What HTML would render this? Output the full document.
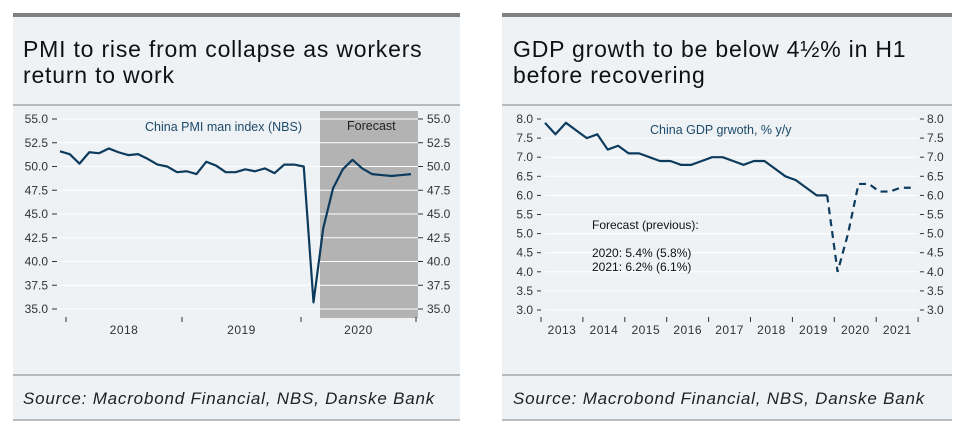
<!DOCTYPE html>
<html><head><meta charset="utf-8"><style>
body{margin:0;background:#fff;width:965px;height:433px;overflow:hidden;font-family:"Liberation Sans",sans-serif}
svg text{font-family:"Liberation Sans",sans-serif}
</style></head><body>
<svg width="965" height="433">
<g>
<rect x="13" y="13" width="447" height="407" fill="#eef2f4"/>
<rect x="13" y="13" width="447" height="4" fill="#808080"/>
<line x1="13" y1="105" x2="460" y2="105" stroke="#808080"/>
<line x1="13" y1="375" x2="460" y2="375" stroke="#808080"/>
<line x1="13" y1="420" x2="460" y2="420" stroke="#808080"/>
<text x="23" y="57" font-size="23" letter-spacing="0.8" fill="#111">PMI to rise from collapse as workers</text>
<text x="23" y="83" font-size="23" letter-spacing="0.8" fill="#111">return to work</text>
<text x="23" y="404" font-size="17" letter-spacing="0.8" font-style="italic" fill="#222">Source: Macrobond Financial, NBS, Danske Bank</text>
<g id="pmi"></g>
</g>
<g>
<rect x="502" y="13" width="450" height="407" fill="#eef2f4"/>
<rect x="502" y="13" width="450" height="4" fill="#808080"/>
<line x1="502" y1="105" x2="952" y2="105" stroke="#808080"/>
<line x1="502" y1="375" x2="952" y2="375" stroke="#808080"/>
<line x1="502" y1="420" x2="952" y2="420" stroke="#808080"/>
<text x="513" y="57" font-size="23" letter-spacing="0.8" fill="#111">GDP growth to be below 4½% in H1</text>
<text x="513" y="83" font-size="23" letter-spacing="0.8" fill="#111">before recovering</text>
<text x="513" y="404" font-size="17" letter-spacing="0.8" font-style="italic" fill="#222">Source: Macrobond Financial, NBS, Danske Bank</text>
<g id="gdp"></g>
</g>
</svg>
<script>
const NS="http://www.w3.org/2000/svg";
function mk(p,t,a,txt){const e=document.createElementNS(NS,t);for(const k in a)e.setAttribute(k,a[k]);if(txt!==undefined)e.textContent=txt;p.appendChild(e);return e;}

// PMI data (Dec 2017 .. Dec 2020, monthly)
const pmiYears=["2018","2019","2020"];
const pmiTicks=[55.0,52.5,50.0,47.5,45.0,42.5,40.0,37.5,35.0];
const pmiValues=[51.6,51.3,50.3,51.5,51.4,51.9,51.5,51.2,51.3,50.8,50.2,50.0,49.4,49.5,49.2,50.5,50.1,49.4,49.4,49.7,49.5,49.8,49.3,50.2,50.2,50.0,35.7,43.5,47.7,49.7,50.7,49.8,49.2,49.1,49.0,49.1,49.2];
const pmiForecastStart=26; // last actual month (Feb 2020)

// GDP data (2013Q1 .. 2021Q4, quarterly)
const gdpYears=["2013","2014","2015","2016","2017","2018","2019","2020","2021"];
const gdpTicks=[8.0,7.5,7.0,6.5,6.0,5.5,5.0,4.5,4.0,3.5,3.0];
const gdpActual=[7.9,7.6,7.9,7.7,7.5,7.6,7.2,7.3,7.1,7.1,7.0,6.9,6.9,6.8,6.8,6.9,7.0,7.0,6.9,6.8,6.9,6.9,6.7,6.5,6.4,6.2,6.0,6.0];
const gdpForecast=[6.0,4.0,5.0,6.3,6.3,6.1,6.1,6.2,6.2];

// ---- PMI chart
(function(){
const g=document.getElementById('pmi');
const y=v=>119+(55-v)*9.5;
const x=i=>60+i*9.75; // i=0 -> Dec 2017
const fx0=x(pmiForecastStart)+6.5;
const band=mk(g,'rect',{x:fx0,y:111,width:418-fx0,height:207,fill:'#b3b3b3'});


pmiTicks.forEach(v=>{
 const gl=mk(g,'line',{x1:57,x2:418,y1:y(v),y2:y(v),stroke:'#fff','stroke-width':1});
 
 
 mk(g,'line',{x1:52,x2:57,y1:y(v),y2:y(v),stroke:'#333'});
 mk(g,'line',{x1:418,x2:423,y1:y(v),y2:y(v),stroke:'#333'});
 const l=mk(g,'text',{x:48,y:y(v)+4,'font-size':12,fill:'#333','text-anchor':'end'},v.toFixed(1));
 
 
 const r=mk(g,'text',{x:427,y:y(v)+4,'font-size':12,fill:'#333'},v.toFixed(1));
 
 
});
const yt=[66,182,301,416];
yt.forEach(t=>mk(g,'line',{x1:t,x2:t,y1:317,y2:322,stroke:'#333'}));
pmiYears.forEach((yr,i)=>{
 const t=mk(g,'text',{x:(yt[i]+yt[i+1])/2,y:334,'font-size':12,'letter-spacing':0.5,fill:'#333','text-anchor':'middle'},yr);
 
 
});
const p=mk(g,'polyline',{points:pmiValues.map((v,i)=>x(i)+','+y(v)).join(' '),fill:'none',stroke:'#0d3b5e','stroke-width':2.2,'stroke-linejoin':'round'});


const a=mk(g,'text',{x:145,y:131,'font-size':12.5,fill:'#1d4a6b'},'China PMI man index (NBS)');


const f=mk(g,'text',{x:347,y:130,'font-size':12.5,fill:'#222'},'Forecast');


})();

// ---- GDP chart
(function(){
const g=document.getElementById('gdp');
const y=v=>119+(8-v)*38.2;
const x=i=>545+i*10.45;
gdpTicks.forEach(v=>{
 const gl=mk(g,'line',{x1:545,x2:918,y1:y(v),y2:y(v),stroke:'#fff','stroke-width':1});
 
 
 mk(g,'line',{x1:537,x2:541,y1:y(v),y2:y(v),stroke:'#333'});
 mk(g,'line',{x1:920,x2:924,y1:y(v),y2:y(v),stroke:'#333'});
 const l=mk(g,'text',{x:533,y:y(v)+4,'font-size':12,fill:'#333','text-anchor':'end'},v.toFixed(1));
 
 
 const r=mk(g,'text',{x:927,y:y(v)+4,'font-size':12,fill:'#333'},v.toFixed(1));
 
 
});
for(let k=0;k<=gdpYears.length;k++){const t=541+k*41.9;mk(g,'line',{x1:t,x2:t,y1:317,y2:322,stroke:'#333'});}
gdpYears.forEach((yr,k)=>{
 const t=mk(g,'text',{x:541+k*41.9+21,y:334,'font-size':12,'letter-spacing':0.5,fill:'#333','text-anchor':'middle'},yr);
 
 
});
const p=mk(g,'polyline',{points:gdpActual.map((v,i)=>x(i)+','+y(v)).join(' '),fill:'none',stroke:'#0d3b5e','stroke-width':2.2,'stroke-linejoin':'round'});


const off=gdpActual.length-1;
const d=mk(g,'polyline',{points:gdpForecast.map((v,i)=>x(i+off)+','+y(v)).join(' '),fill:'none',stroke:'#0d3b5e','stroke-width':2.2,'stroke-dasharray':'7,5'});


const a=mk(g,'text',{x:650,y:134,'font-size':12.5,fill:'#1d4a6b'},'China GDP grwoth, % y/y');


const n=[['Forecast (previous):',229],['2020: 5.4% (5.8%)',257],['2021: 6.2% (6.1%)',271]];
n.forEach(([s,yy])=>{
 const t=mk(g,'text',{x:592,y:yy,'font-size':12,fill:'#111'},s);
 
 
});
})();
</script>
</body></html>
